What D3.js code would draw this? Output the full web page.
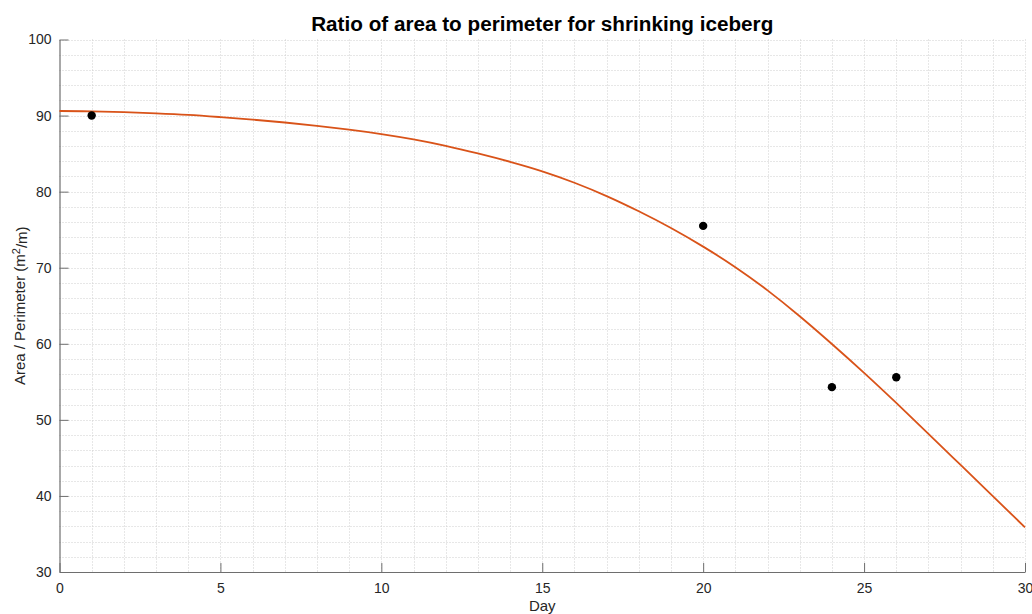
<!DOCTYPE html>
<html>
<head>
<meta charset="utf-8">
<script src="https://cdn.jsdelivr.net/npm/d3@7"></script>
<style>
  html, body { margin: 0; padding: 0; background: #fff; }
  svg { display: block; font-family: "Liberation Sans", Arial, Helvetica, sans-serif; }
</style>
</head>
<body>
<svg id="chart" width="1032" height="614"></svg>
<script>
// Ratio of area to perimeter — measured days and fitted curve

const obsDays = [1, 20, 24, 26];
const obsRatio = [90.0, 75.5, 54.3, 55.6];

const fitDays = d3.range(0, 31);
const fitRatio = [90.60, 90.55, 90.45, 90.30, 90.10, 89.80, 89.47, 89.09, 88.65, 88.15,
                  87.57, 86.87, 86.02, 85.02, 83.92, 82.67, 81.17, 79.42, 77.42, 75.22,
                  72.77, 70.07, 67.02, 63.62, 59.97, 56.17, 52.22, 48.17, 44.07, 39.97, 35.87];

const xTicks = [0, 5, 10, 15, 20, 25, 30];
const yTicks = [30, 40, 50, 60, 70, 80, 90, 100];

const M = { left: 59.5, right: 1025, top: 39.5, bottom: 572 };

const svg = d3.select('#chart');

const x = d3.scaleLinear().domain([0, 30]).range([M.left, M.right]);
const y = d3.scaleLinear().domain([30, 100]).range([M.bottom, M.top]);

// grid (major + minor, all dotted)
const grid = svg.append('g')
    .attr('stroke', '#cfcfcf')
    .attr('stroke-width', 1)
    .attr('stroke-dasharray', '1,2');

grid.selectAll('line.gx')
    .data(d3.range(1, 31))
    .join('line')
    .attr('x1', d => Math.round(x(d)) + 0.5)
    .attr('x2', d => Math.round(x(d)) + 0.5)
    .attr('y1', M.top)
    .attr('y2', M.bottom);

grid.selectAll('line.gy')
    .data(d3.range(32, 101, 2))
    .join('line')
    .attr('x1', M.left)
    .attr('x2', M.right)
    .attr('y1', d => Math.round(y(d)) + 0.5)
    .attr('y2', d => Math.round(y(d)) + 0.5);

// axes
const axisColor = '#6e6e6e';
const textColor = '#262626';

const xAxis = svg.append('g')
    .attr('transform', `translate(0, ${M.bottom})`)
    .call(d3.axisBottom(x).tickValues(xTicks).tickSizeInner(-9).tickSizeOuter(0).tickPadding(8));

const yAxis = svg.append('g')
    .attr('transform', `translate(${M.left}, 0)`)
    .call(d3.axisLeft(y).tickValues(yTicks).tickSizeInner(-9).tickSizeOuter(0).tickPadding(8));

[xAxis, yAxis].forEach(g => {
    g.select('.domain').attr('stroke', axisColor).attr('stroke-width', 1.2);
    g.selectAll('.tick line').attr('stroke', axisColor).attr('stroke-width', 1);
    g.selectAll('.tick text')
        .attr('fill', textColor)
        .attr('font-size', '14px')
        .attr('font-family', '"Liberation Sans", Arial, sans-serif');
});
xAxis.selectAll('.tick text').attr('dy', '0.95em');

// fitted curve
const line = d3.line()
    .x((d, i) => x(fitDays[i]))
    .y(d => y(d))
    .curve(d3.curveNatural);

svg.append('path')
    .datum(fitRatio)
    .attr('fill', 'none')
    .attr('stroke', '#D95319')
    .attr('stroke-width', 1.8)
    .attr('d', line);

// observations
svg.append('g')
    .selectAll('circle')
    .data(obsDays)
    .join('circle')
    .attr('cx', d => x(d))
    .attr('cy', (d, i) => y(obsRatio[i]))
    .attr('r', 4.2)
    .attr('fill', '#000');

// title
svg.append('text')
    .attr('x', (M.left + M.right) / 2)
    .attr('y', 31)
    .attr('text-anchor', 'middle')
    .attr('font-size', '20.7px')
    .attr('font-weight', 'bold')
    .attr('fill', '#000')
    .text('Ratio of area to perimeter for shrinking iceberg');

// x label
svg.append('text')
    .attr('x', (M.left + M.right) / 2)
    .attr('y', 611)
    .attr('text-anchor', 'middle')
    .attr('font-size', '15px')
    .attr('fill', textColor)
    .text('Day');

// y label
const yl = svg.append('text')
    .attr('transform', `translate(25, ${(M.top + M.bottom) / 2}) rotate(-90)`)
    .attr('text-anchor', 'middle')
    .attr('font-size', '15px')
    .attr('fill', textColor);
yl.append('tspan').text('Area / Perimeter (m');
yl.append('tspan').attr('dy', '-0.45em').attr('font-size', '11px').text('2');
yl.append('tspan').attr('dy', '0.45em').text('/m)');
</script>
</body>
</html>
